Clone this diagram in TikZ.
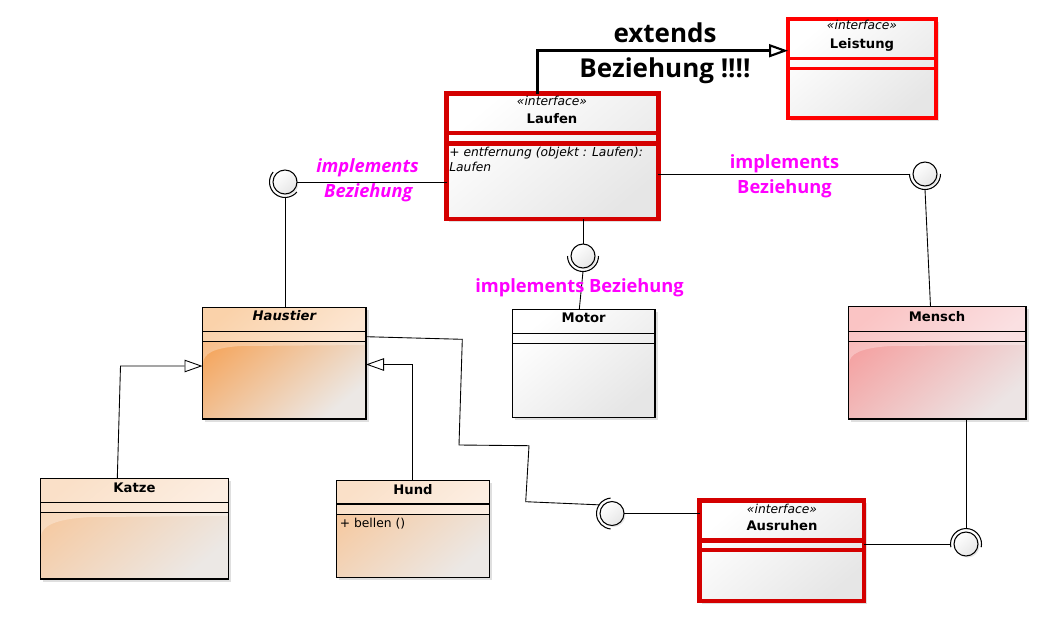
\documentclass[tikz,border=0pt]{standalone}
\usepackage{fontspec}
\setmainfont{DejaVu Sans}
\newfontfamily\notefont{Open Sans}
\usetikzlibrary{arrows.meta,calc,fit,shadows}

\definecolor{ifred}{RGB}{212,0,0}
\definecolor{leistred}{RGB}{255,0,0}
\definecolor{notepink}{RGB}{255,0,255}
\definecolor{boxgrey}{RGB}{230,230,230}
\definecolor{petA}{RGB}{245,162,86}
\definecolor{petB}{RGB}{236,232,229}
\definecolor{pethead}{RGB}{250,210,170}
\definecolor{petheadB}{RGB}{252,230,210}
\definecolor{kidA}{RGB}{246,200,158}
\definecolor{kidhead}{RGB}{250,224,200}
\definecolor{kidheadB}{RGB}{252,238,226}
\definecolor{humA}{RGB}{245,158,158}
\definecolor{humB}{RGB}{236,228,228}
\definecolor{humhead}{RGB}{250,196,196}
\definecolor{humheadB}{RGB}{250,224,226}

\def\sepline[#1](#2)(#3){\draw[#1] (#2.west |- 0,#3) -- (#2.east |- 0,#3);}
\def\socket(#1)(#2:#3){\draw[line width=0.6pt] ($(#1)+(#2:0.31cm)$) arc (#2:#3:0.31cm);}

\tikzset{
  box/.style={draw, line width=0.8pt, inner sep=0pt, outer sep=0pt,
    drop shadow={opacity=0.25, shadow xshift=0.05cm, shadow yshift=-0.05cm}},
  ifbox/.style={box, line width=2.6pt, top color=white, bottom color=boxgrey, shading angle=40},
  ball/.style={circle, draw, line width=0.6pt, minimum size=0.48cm, inner sep=0pt, outer sep=0pt,
    top color=white, bottom color=boxgrey, shading angle=40,
    drop shadow={opacity=0.2, shadow xshift=0.03cm, shadow yshift=-0.03cm}},
  stereo/.style={anchor=base, inner sep=0pt, font=\fontsize{7}{8}\selectfont\itshape},
  title/.style={anchor=base, inner sep=0pt, font=\fontsize{7.5}{8}\selectfont\bfseries},
  member/.style={anchor=base west, inner sep=0pt, font=\fontsize{7}{8}\selectfont},
  note/.style={anchor=base, inner sep=0pt, text=notepink, font=\notefont\bfseries\fontsize{10.4}{12}\selectfont},
  noteit/.style={note, font=\notefont\bfseries\itshape\fontsize{10.4}{12}\selectfont},
  bignote/.style={anchor=base, inner sep=0pt, font=\notefont\bfseries\fontsize{14.8}{16}\selectfont},
  wire/.style={line width=0.5pt},
  inherit/.style={wire, -{Triangle[fill=white, length=0.36cm, width=0.25cm]}},
  extends/.style={line width=1.9pt, -{Triangle[fill=white, length=0.38cm, width=0.26cm, line width=1.2pt]}},
}

\begin{document}
\begin{tikzpicture}[x=0.02cm, y=-0.02cm]
  \useasboundingbox[fill=white] (0,0) rectangle (1041,616);
  %%%%% INTERFACES %%%%%
  \node[ifbox, draw=leistred, line width=2.1pt, fit={(788,19) (936,118)}] (leistung) {};
  \sepline[leistred, line width=2.1pt](leistung)(58.5)
  \sepline[leistred, line width=2.1pt](leistung)(68.5)
  \node[stereo] (leistung-st) at (862,29.3) {«interface»};
  \node[title] (leistung-t) at (862,48.3) {Leistung};

  \node[ifbox, draw=ifred, fit={(446.5,93.5) (658.3,219)}] (laufen) {};
  \sepline[ifred, line width=2.6pt](laufen)(133)
  \sepline[ifred, line width=2.6pt](laufen)(143.5)
  \node[stereo] (laufen-st) at (552,105.5) {«interface»};
  \node[title] (laufen-t) at (552,123.3) {Laufen};
  \node[member, font=\fontsize{7}{8}\selectfont\itshape] (laufen-m1) at (449,156.7) {+ entfernung (objekt : Laufen):};
  \node[member, font=\fontsize{7}{8}\selectfont\itshape] (laufen-m2) at (449,171) {Laufen};

  \node[ifbox, draw=ifred, fit={(699.7,500.5) (864,601)}] (ausruhen) {};
  \sepline[ifred, line width=2.6pt](ausruhen)(540.5)
  \sepline[ifred, line width=2.6pt](ausruhen)(550)
  \node[stereo] (ausruhen-st) at (782,513.3) {«interface»};
  \node[title] (ausruhen-t) at (782,530) {Ausruhen};

  %%%%% CLASSES %%%%%
  \node[box, top color=petA, bottom color=petB, shading angle=40, fit={(202.5,307.3) (366,419)}] (haustier) {};
  \shade[top color=pethead, bottom color=petheadB, shading angle=40] (haustier.north west) rectangle (haustier.east |- 0,341.7);
  \fill[white, opacity=0.3] (haustier.west |- 0,341.7) -- (haustier.east |- 0,341.7) -- (366,345) -- (240,346) .. controls (212,348) and (204,354) .. (203,363) -- cycle;
  \draw[line width=0.8pt] (haustier.north west) rectangle (haustier.south east);
  \sepline[line width=0.8pt](haustier)(331.7)
  \sepline[line width=0.8pt](haustier)(341.7)
  \node[title, font=\fontsize{7.5}{8}\selectfont\bfseries\itshape] (haustier-t) at (284.3,320.7) {Haustier};

  \node[box, top color=kidA, bottom color=petB, shading angle=40, fit={(40.7,478.3) (228.3,579)}] (katze) {};
  \shade[top color=kidhead, bottom color=kidheadB, shading angle=40] (katze.north west) rectangle (katze.east |- 0,512.3);
  \fill[white, opacity=0.3] (katze.west |- 0,512.3) -- (katze.east |- 0,512.3) -- (228,516) -- (90,517) .. controls (55,519) and (42,526) .. (41,536) -- cycle;
  \draw[line width=0.8pt] (katze.north west) rectangle (katze.south east);
  \sepline[line width=0.8pt](katze)(502.7)
  \sepline[line width=0.8pt](katze)(512.3)
  \node[title] (katze-t) at (134.5,492.7) {Katze};

  \node[box, top color=kidA, bottom color=petB, shading angle=40, fit={(336.7,480.7) (489.3,577.3)}] (hund) {};
  \shade[top color=kidhead, bottom color=kidheadB, shading angle=40] (hund.north west) rectangle (hund.east |- 0,514.3);
  \draw[line width=0.8pt] (hund.north west) rectangle (hund.south east);
  \sepline[line width=0.8pt](hund)(504)
  \sepline[line width=0.8pt](hund)(514.3)
  \node[title] (hund-t) at (413,494) {Hund};
  \node[member] (hund-m1) at (339.5,527.3) {+ bellen ()};

  \node[box, top color=white, bottom color=boxgrey, shading angle=40, fit={(512.3,309.3) (655,417.3)}] (motor) {};
  \sepline[line width=0.8pt](motor)(333.3)
  \sepline[line width=0.8pt](motor)(343.3)
  \node[title] (motor-t) at (583.7,322.7) {Motor};

  \node[box, top color=humA, bottom color=humB, shading angle=40, fit={(848.3,306.7) (1026,419)}] (mensch) {};
  \shade[top color=humhead, bottom color=humheadB, shading angle=40] (mensch.north west) rectangle (mensch.east |- 0,341.7);
  \fill[white, opacity=0.3] (mensch.west |- 0,341.7) -- (mensch.east |- 0,341.7) -- (1026,345) -- (890,346) .. controls (860,348) and (850,354) .. (849,363) -- cycle;
  \draw[line width=0.8pt] (mensch.north west) rectangle (mensch.south east);
  \sepline[line width=0.8pt](mensch)(331.7)
  \sepline[line width=0.8pt](mensch)(341.7)
  \node[title] (mensch-t) at (937,321.7) {Mensch};

  %%%%% LOLLIPOPS %%%%%
  \node[ball] (l1) at (285,182) {};
  \node[ball] (l2) at (925,174) {};
  \node[ball] (l3) at (583,256) {};
  \node[ball] (l4) at (612,513.5) {};
  \node[ball] (l5) at (966,544) {};
  \socket(l1)(140:320)
  \socket(l2)(180:360)
  \socket(l3)(180:360)
  \socket(l4)(95:265)
  \socket(l5)(-12:192)

  \draw[wire] (l1.east) -- (l1 -| laufen.west);
  \draw[wire] ($(l1)+(0,-0.31cm)$) -- (l1 |- haustier.north);
  \draw[wire] (laufen.east |- l2) -- ($(l2)+(-0.31cm,0)$);
  \draw[wire] ($(l2)+(0,-0.31cm)$) -- ($(l2 |- mensch.north)+(5.5,0)$);
  \draw[wire] (l3 |- laufen.south) -- (l3.north);
  \draw[wire] ($(l3)+(0,-0.31cm)$) -- ($(l3 |- motor.north)+(-3.7,0)$);
  \draw[wire] (l4.east) -- (l4 -| ausruhen.west);
  \draw[wire] (haustier.east |- 0,336.7) -- (462.3,339.3) -- (459,445) -- (529,445.7) -- (525.7,501.7) -- ($(l4)+(146:0.31cm)$);
  \draw[wire] (ausruhen.east |- l5) -- ($(l5)+(-0.31cm,0)$);
  \draw[wire] (mensch.south -| l5) -- ($(l5)+(0,0.31cm)$);

  %%%%% GENERALISATION %%%%%
  \coordinate (kbend) at (120.5,366);
  \draw[inherit] (katze.north -| 117.3,0) -- (kbend) -- (kbend -| haustier.west);
  \coordinate (hbend) at (412.5,364.5);
  \draw[inherit] (hund.north -| hbend) -- (hbend) -- (hbend -| haustier.east);
  \coordinate (extbend) at (537.5,50.7);
  \draw[extends] (laufen.north -| extbend) -- (extbend) -- (extbend -| leistung.west);

  %%%%% NOTES %%%%%
  \node[noteit] (note1a) at (367.5,172) {implements};
  \node[noteit] (note1b) at (368.3,197) {Beziehung};
  \node[note] (note2a) at (784.5,168) {implements};
  \node[note] (note2b) at (784.5,193) {Beziehung};
  \node[note] (note3) at (579.5,292) {implements Beziehung};
  \node[bignote] (ext-a) at (665,42.7) {extends};
  \node[bignote] (ext-b) at (665,77.7) {Beziehung !!!!};
\end{tikzpicture}
\end{document}
